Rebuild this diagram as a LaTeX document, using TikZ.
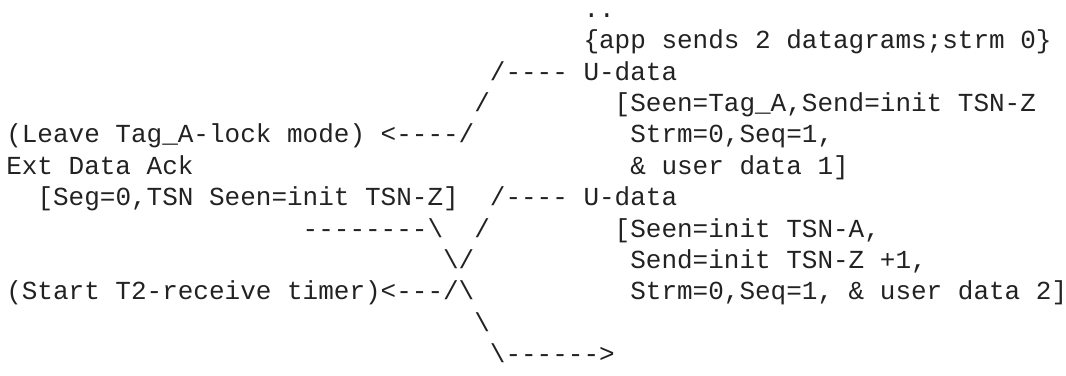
\documentclass[tikz,border=0pt]{standalone}
\usepackage{fontspec}
\setmonofont{Liberation Mono}
\definecolor{ink}{HTML}{222222}
\newcommand\cw{15.6}
\newcommand\lp{31.36}
\tikzset{txt/.style={anchor=base west, inner sep=0pt, outer sep=0pt,
  font=\ttfamily\fontsize{19.5}{23}\selectfont, text=ink}}
\newcommand\seg[4]{\node[txt] (#1) at ({6.3+#2*\cw},{17.5+(#3-1)*\lp}) {#4};}
\begin{document}
\begin{tikzpicture}[x=0.75pt,y=-0.75pt]
\useasboundingbox (0,0) rectangle (1066,375);
\seg{dots}{37}{1}{..}
\seg{app}{37}{2}{\{app sends 2 datagrams;strm 0\}}
\seg{ua}{31}{3}{/---- U-data}
\seg{sla}{30}{4}{/}
\seg{seena}{39}{4}{[Seen=Tag\_A,Send=init TSN-Z}
\seg{leave}{0}{5}{(Leave Tag\_A-lock mode) <----/}
\seg{strma}{40}{5}{Strm=0,Seq=1,}
\seg{ack}{0}{6}{Ext Data Ack}
\seg{uda}{40}{6}{\& user data 1]}
\seg{segz}{2}{7}{[Seg=0,TSN Seen=init TSN-Z]}
\seg{ub}{31}{7}{/---- U-data}
\seg{dash}{19}{8}{--------\textbackslash}
\seg{slb}{30}{8}{/}
\seg{seenb}{39}{8}{[Seen=init TSN-A,}
\seg{cross}{28}{9}{\textbackslash/}
\seg{sendb}{40}{9}{Send=init TSN-Z +1,}
\seg{start}{0}{10}{(Start T2-receive timer)<---/\textbackslash}
\seg{strmb}{40}{10}{Strm=0,Seq=1, \& user data 2]}
\seg{bsa}{30}{11}{\textbackslash}
\seg{arr}{31}{12}{\textbackslash------>}
\end{tikzpicture}
\end{document}
